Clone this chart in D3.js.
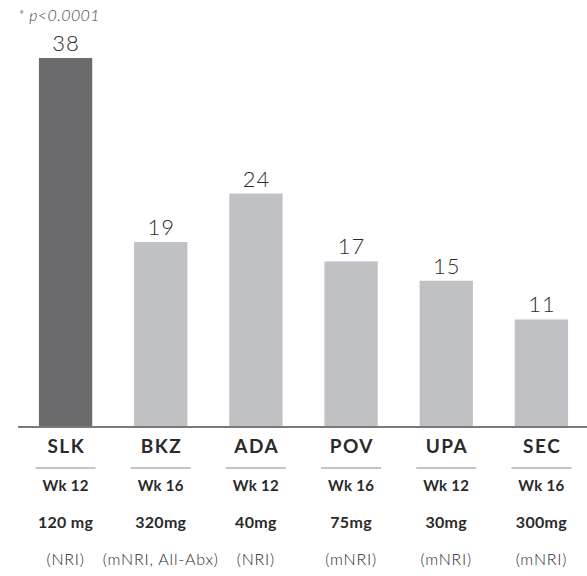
<!DOCTYPE html>
<html>
<head>
<meta charset="utf-8">
<script src="https://cdn.jsdelivr.net/npm/d3@7"></script>
<style>
  body { margin: 0; background: #fff; }
  svg text { font-family: "Lato", "DejaVu Sans", sans-serif; }
</style>
</head>
<body>
<div id="chart"></div>
<script>
// Chart data
const drugs = ["SLK", "BKZ", "ADA", "POV", "UPA", "SEC"];
const values = [38, 19, 24, 17, 15, 11];
const weeks = ["Wk 12", "Wk 16", "Wk 12", "Wk 16", "Wk 12", "Wk 16"];
const doses = ["120 mg", "320mg", "40mg", "75mg", "30mg", "300mg"];
const methods = ["(NRI)", "(mNRI, All-Abx)", "(NRI)", "(mNRI)", "(mNRI)", "(mNRI)"];
const footnote = "* p<0.0001";

const width = 587, height = 576;
const baseline = 426;
const plotTop = 58;

const svg = d3.select("#chart").append("svg")
  .attr("width", width)
  .attr("height", height);

const x = d3.scaleBand()
  .domain(drugs)
  .range([18, 589])
  .paddingInner(0.44)
  .paddingOuter(0.22);

const y = d3.scaleLinear()
  .domain([0, 38])
  .range([baseline, plotTop]);

const cx = d => x(d) + x.bandwidth() / 2;

// bars
svg.selectAll("rect.bar")
  .data(drugs)
  .enter().append("rect")
  .attr("class", "bar")
  .attr("x", d => x(d))
  .attr("width", x.bandwidth())
  .attr("y", (d, i) => y(values[i]))
  .attr("height", (d, i) => baseline - y(values[i]))
  .style("fill", (d, i) => i === 0 ? "#6b6b6d" : "#c0c1c4");

// value labels
svg.selectAll("text.value")
  .data(drugs)
  .enter().append("text")
  .attr("class", "value")
  .attr("x", d => cx(d) + 0.5)
  .attr("y", (d, i) => y(values[i]) - 7)
  .attr("text-anchor", "middle")
  .style("font-size", "22px")
  .style("font-weight", 300)
  .style("letter-spacing", "1px")
  .style("fill", "#2a2a2a")
  .text((d, i) => values[i]);

// baseline axis
svg.append("line")
  .attr("x1", 18).attr("x2", width)
  .attr("y1", baseline + 1).attr("y2", baseline + 1)
  .style("stroke", "#7a7a7a")
  .style("stroke-width", 2);

// drug names
svg.selectAll("text.drug")
  .data(drugs)
  .enter().append("text")
  .attr("class", "drug")
  .attr("x", d => cx(d) + 0.75)
  .attr("y", 453)
  .attr("text-anchor", "middle")
  .style("font-size", "19px")
  .style("font-weight", "bold")
  .style("letter-spacing", "1.5px")
  .style("fill", "#2a2a2a")
  .text(d => d);

// separators
svg.selectAll("line.sep")
  .data(drugs)
  .enter().append("line")
  .attr("class", "sep")
  .attr("x1", d => cx(d) - 30)
  .attr("x2", d => cx(d) + 30)
  .attr("y1", 468).attr("y2", 468)
  .style("stroke", "#8a8a8a")
  .style("stroke-width", 1);

// week / dose / method rows
const rows = [
  { vals: weeks, y: 491, weight: "bold", size: "15px", ls: "0.3px" },
  { vals: doses, y: 528, weight: "bold", size: "16px", ls: "0.3px" },
  { vals: methods, y: 565, weight: 300, size: "16px", ls: "0.8px" }
];

rows.forEach(r => {
  svg.selectAll(null)
    .data(drugs)
    .enter().append("text")
    .attr("x", cx)
    .attr("y", r.y)
    .attr("text-anchor", "middle")
    .style("font-size", r.size)
    .style("font-weight", r.weight)
    .style("letter-spacing", r.ls)
    .style("fill", "#2a2a2a")
    .text((d, i) => r.vals[i]);
});

// footnote
svg.append("text")
  .attr("x", 18)
  .attr("y", 21)
  .style("font-size", "16px")
  .style("font-style", "italic")
  .style("font-weight", 300)
  .style("letter-spacing", "0.4px")
  .style("fill", "#444")
  .text(footnote);
</script>
</body>
</html>
